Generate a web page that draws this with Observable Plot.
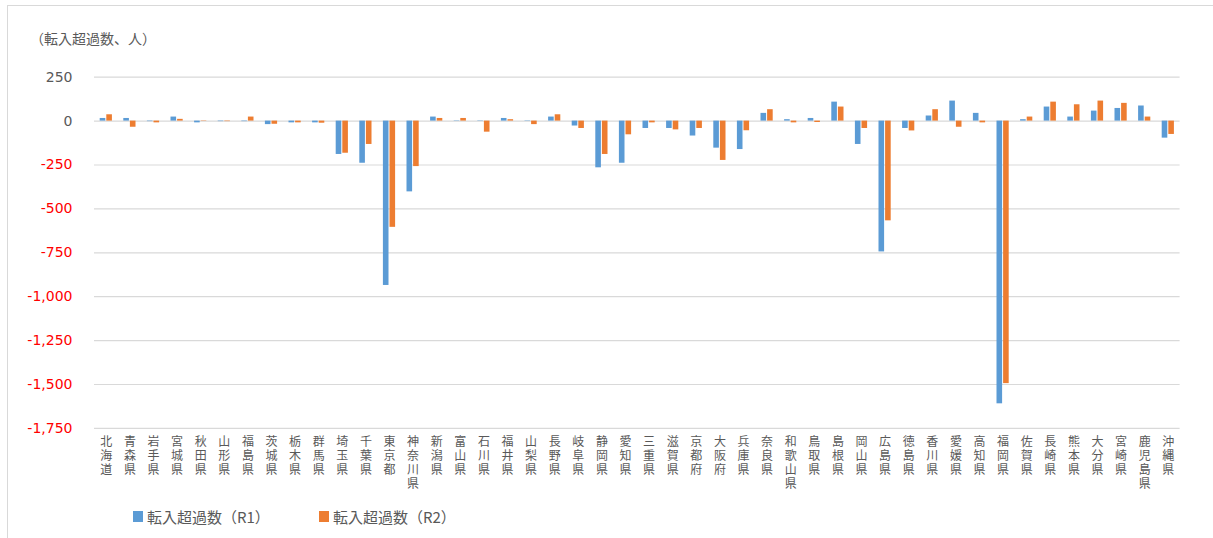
<!DOCTYPE html>
<html>
<head>
<meta charset="utf-8">
<script src="https://cdn.jsdelivr.net/npm/d3@7"></script>
<script src="https://cdn.jsdelivr.net/npm/@observablehq/plot@0.6"></script>
<style>
  html, body { margin: 0; padding: 0; background: #fff; }
  body { width: 1213px; height: 538px; overflow: hidden; position: relative; font-family: "Noto Sans CJK JP", "DejaVu Sans", sans-serif; }
  #frame { position: absolute; left: 7px; top: 5px; width: 1240px; height: 560px; border: 1px solid #d9d9d9; box-sizing: border-box; }
  #title { position: relative; height: 56px; box-sizing: border-box; padding-left: 30px; padding-top: 28px; font-size: 14px; line-height: 20px; color: #595959; }
  #chart { position: relative; height: 444px; }
  #legend { position: relative; height: 38px; font-size: 15px; color: #595959; }
  .sw { position: absolute; top: 11px; width: 10px; height: 11px; }
  .lt { position: absolute; top: 6px; line-height: 22px; white-space: nowrap; }
</style>
</head>
<body>
<div id="frame"></div>
<div id="title">（転入超過数、人）</div>
<div id="chart"></div>
<div id="legend"></div>
<script>
const prefectures = ["北海道","青森県","岩手県","宮城県","秋田県","山形県","福島県","茨城県","栃木県","群馬県","埼玉県","千葉県","東京都","神奈川県","新潟県","富山県","石川県","福井県","山梨県","長野県","岐阜県","静岡県","愛知県","三重県","滋賀県","京都府","大阪府","兵庫県","奈良県","和歌山県","鳥取県","島根県","岡山県","広島県","徳島県","香川県","愛媛県","高知県","福岡県","佐賀県","長崎県","熊本県","大分県","宮崎県","鹿児島県","沖縄県"];
const valuesR1 = [15,15,-3,23,-10,-3,-3,-20,-10,-10,-190,-240,-936,-403,23,-2,-2,15,-2,23,-28,-266,-240,-42,-42,-85,-154,-162,44,8,15,108,-133,-745,-42,29,114,44,-1610,8,80,23,57,72,86,-97];
const valuesR2 = [36,-35,-10,10,-2,-3,23,-18,-10,-12,-183,-133,-605,-259,15,15,-63,8,-20,36,-42,-190,-78,-10,-50,-42,-224,-55,65,-10,-8,80,-42,-568,-56,65,-35,-10,-1495,23,108,93,114,101,23,-76];
const seriesNames = ["転入超過数（R1）", "転入超過数（R2）"];
const seriesColors = ["#5B9BD5", "#ED7D31"];
const yTicks = [250, 0, -250, -500, -750, -1000, -1250, -1500, -1750];

const rowsR1 = prefectures.map((p, i) => ({pref: p, value: valuesR1[i]}));
const rowsR2 = prefectures.map((p, i) => ({pref: p, value: valuesR2[i]}));

const W = 1213, H = 444;
const mL = 94, mR = 33.4;
const bw = (W - mL - mR) / prefectures.length;
const barW = 5.6, gap = 0.5;

const fmt = d => d.toLocaleString("en-US");

const chart = Plot.plot({
  width: W,
  height: H,
  marginTop: 20.7,
  marginBottom: 72.1,
  marginLeft: mL,
  marginRight: mR,
  style: {fontFamily: '"Noto Sans CJK JP", sans-serif', background: "transparent"},
  x: {type: "band", domain: prefectures, padding: 0, round: false, label: null},
  y: {domain: [-1750, 250], axis: null},
  marks: [
    Plot.ruleY(yTicks, {stroke: "#d9d9d9", strokeWidth: 1.2}),
    Plot.barY(rowsR1, {x: "pref", y: "value", fill: seriesColors[0],
      insetLeft: bw / 2 - gap - barW, insetRight: bw / 2 + gap}),
    Plot.barY(rowsR2, {x: "pref", y: "value", fill: seriesColors[1],
      insetLeft: bw / 2 + gap, insetRight: bw / 2 - gap - barW}),
    Plot.text(yTicks, {y: d => d, text: fmt, frameAnchor: "left", textAnchor: "end", dx: -22,
      fill: d => d < 0 ? "#ff0000" : "#595959", fontSize: 14, fontFamily: '"DejaVu Sans", sans-serif'}),
    Plot.axisX({tickSize: 0, tickPadding: 8, fontSize: 12, lineHeight: 1.16, fill: "#595959", label: null,
      tickFormat: d => d.split("").join("\n")})
  ]
});
document.getElementById("chart").appendChild(chart);

const legend = document.getElementById("legend");
const legendX = [133, 319];
seriesNames.forEach((name, i) => {
  const sw = document.createElement("div");
  sw.className = "sw";
  sw.style.left = legendX[i] + "px";
  sw.style.background = seriesColors[i];
  legend.appendChild(sw);
  const t = document.createElement("div");
  t.className = "lt";
  t.style.left = (legendX[i] + 14) + "px";
  t.textContent = name;
  legend.appendChild(t);
});
</script>
</body>
</html>
